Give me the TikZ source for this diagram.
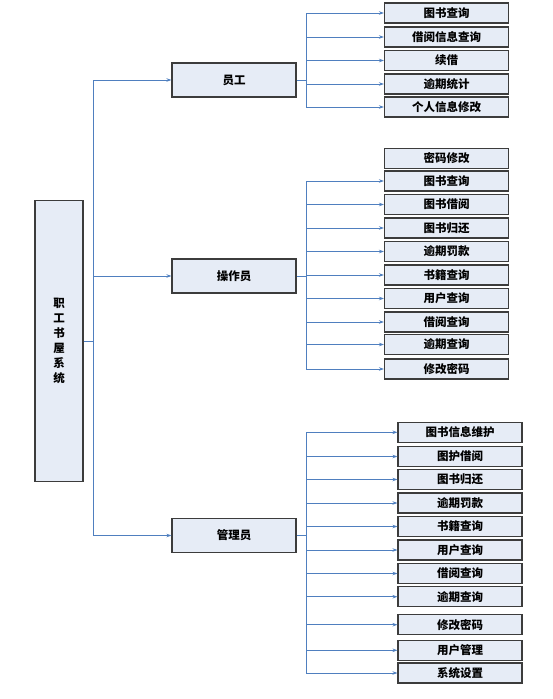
\documentclass[tikz,border=0pt]{standalone}
\usepackage{fontspec}
\setmainfont{Noto Sans CJK SC}
\usepackage{tikz}
\usetikzlibrary{positioning,arrows.meta}
\definecolor{boxfill}{HTML}{E6ECF6}
\definecolor{boxline}{HTML}{3C3C3C}
\definecolor{linkblue}{HTML}{4F7FBF}
\tikzstyle{box} = [draw=boxline, line width=1.1pt, fill=boxfill, inner sep=0pt, font=\bfseries\fontsize{11.5}{13}\selectfont]
\tikzstyle{leaf} = [box, minimum width=124pt, minimum height=20pt]
\tikzstyle{role} = [box, minimum width=124pt, minimum height=34pt]
\tikzstyle{arrow} = [line width=0.9pt, draw=linkblue, -{Stealth[length=5pt,width=3.5pt]}]

\begin{document}
\begin{tikzpicture}[x=1pt, y=-1pt, align=center]
			\useasboundingbox (0,0) rectangle (552,699);
			\node[box, minimum width=48pt, minimum height=281pt, font=\bfseries\fontsize{11.5}{15}\selectfont] (system) at (59,341) {职\\工\\书\\屋\\系\\统};
			\node[role] (staff) at (234,80) {员工};
			\node[role] (operator) at (234,276) {操作员};
			\node[role] (admin) at (234,535.5) {管理员};
			% staff functions
			\node[leaf] (s1) at (446.5,13) {图书查询};
			\node[leaf] (s2) at (446.5,37) {借阅信息查询};
			\node[leaf] (s3) at (446.5,60.5) {续借};
			\node[leaf] (s4) at (446.5,84) {逾期统计};
			\node[leaf] (s5) at (446.5,107) {个人信息修改};
			% operator functions
			\node[leaf] (o0) at (446.5,158.3) {密码修改};
			\node[leaf] (o1) at (446.5,181) {图书查询};
			\node[leaf] (o2) at (446.5,204.5) {图书借阅};
			\node[leaf] (o3) at (446.5,228) {图书归还};
			\node[leaf] (o4) at (446.5,251.5) {逾期罚款};
			\node[leaf] (o5) at (446.5,275) {书籍查询};
			\node[leaf] (o6) at (446.5,298.5) {用户查询};
			\node[leaf] (o7) at (446.5,322) {借阅查询};
			\node[leaf] (o8) at (446.5,344.5) {逾期查询};
			\node[leaf] (o9) at (446.5,369) {修改密码};
			% admin functions
			\node[leaf] (a1) at (460,432.3) {图书信息维护};
			\node[leaf] (a2) at (460,456.5) {图护借阅};
			\node[leaf] (a3) at (460,479.5) {图书归还};
			\node[leaf] (a4) at (460,503) {逾期罚款};
			\node[leaf] (a5) at (460,526.5) {书籍查询};
			\node[leaf] (a6) at (460,550) {用户查询};
			\node[leaf] (a7) at (460,573.5) {借阅查询};
			\node[leaf] (a8) at (460,596.7) {逾期查询};
			\node[leaf] (a9) at (460,624.7) {修改密码};
			\node[leaf] (a10) at (460,650.3) {用户管理};
			\node[leaf] (a11) at (460,673) {系统设置};
			% trunks
			\coordinate (trunk) at (93,341);
			\coordinate (staffbus) at (306,80);
			\coordinate (opbus) at (306,276);
			\coordinate (adminbus) at (306,535.5);
			\draw[arrow] (system.east) -- (trunk) |- (staff.west);
			\draw[arrow] (trunk) |- (operator.west);
			\draw[arrow] (trunk) |- (admin.west);
			\draw[arrow] (staff.east) -- (staffbus) |- (s1.west);
			\draw[arrow] (staffbus) |- (s2.west);
			\draw[arrow] (staffbus) |- (s3.west);
			\draw[arrow] (staffbus) |- (s4.west);
			\draw[arrow] (staffbus) |- (s5.west);
			\draw[arrow] (operator.east) -- (opbus) |- (o1.west);
			\draw[arrow] (opbus) |- (o2.west);
			\draw[arrow] (opbus) |- (o3.west);
			\draw[arrow] (opbus) |- (o4.west);
			\draw[arrow] (opbus) |- (o5.west);
			\draw[arrow] (opbus) |- (o6.west);
			\draw[arrow] (opbus) |- (o7.west);
			\draw[arrow] (opbus) |- (o8.west);
			\draw[arrow] (opbus) |- (o9.west);
			\draw[arrow] (admin.east) -- (adminbus) |- (a1.west);
			\draw[arrow] (adminbus) |- (a2.west);
			\draw[arrow] (adminbus) |- (a3.west);
			\draw[arrow] (adminbus) |- (a4.west);
			\draw[arrow] (adminbus) |- (a5.west);
			\draw[arrow] (adminbus) |- (a6.west);
			\draw[arrow] (adminbus) |- (a7.west);
			\draw[arrow] (adminbus) |- (a8.west);
			\draw[arrow] (adminbus) |- (a9.west);
			\draw[arrow] (adminbus) |- (a10.west);
			\draw[arrow] (adminbus) |- (a11.west);
		\end{tikzpicture}
\end{document}
